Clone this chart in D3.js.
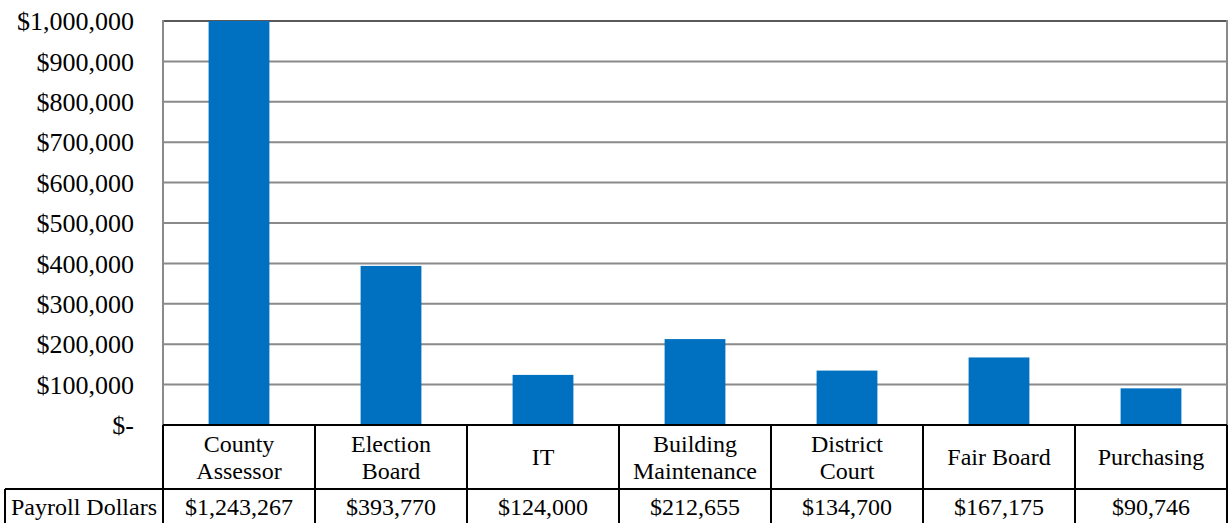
<!DOCTYPE html>
<html>
<head>
<meta charset="utf-8">
<script src="https://cdn.jsdelivr.net/npm/d3@7"></script>
<style>
  html, body { margin: 0; padding: 0; background: #fff; }
  svg { display: block; }
  svg text { font-family: "Liberation Serif", "Times New Roman", serif; fill: #000; }
</style>
</head>
<body>
<div class="chart"></div>
<script>
// --- data ---
const categories = ["County Assessor", "Election Board", "IT", "Building Maintenance",
                    "District Court", "Fair Board", "Purchasing"];
const categoryLines = [["County", "Assessor"], ["Election", "Board"], ["IT"],
                       ["Building", "Maintenance"], ["District", "Court"], ["Fair Board"], ["Purchasing"]];
const seriesName = "Payroll Dollars";
const payroll = [1243267, 393770, 124000, 212655, 134700, 167175, 90746];
const yTicks = [0, 100000, 200000, 300000, 400000, 500000, 600000, 700000, 800000, 900000, 1000000];

const W = 1230, H = 523;
const plot = { left: 163, right: 1227, top: 21, bottom: 425 };
const rowSplit = 489;      // between category row and value row
const firstColLeft = 5;
const serif = '"Liberation Serif", "Times New Roman", serif';

const svg = d3.select(".chart").append("svg")
    .attr("width", W)
    .attr("height", H);

const x = d3.scaleBand()
    .domain(categories)
    .range([plot.left, plot.right]);

const xBar = d3.scaleBand()
    .domain(categories)
    .range([plot.left, plot.right])
    .paddingInner(0.6)
    .paddingOuter(0.3);

const y = d3.scaleLinear()
    .domain([0, 1000000])
    .range([plot.bottom, plot.top]);

const money = d3.format("$,");
const tickFmt = v => v === 0 ? "$-" : money(v);

// gridlines
svg.append("g")
    .selectAll("line")
    .data(yTicks.filter(v => v > 0))
    .join("line")
    .attr("x1", plot.left)
    .attr("x2", plot.right)
    .attr("y1", d => y(d))
    .attr("y2", d => y(d))
    .attr("stroke", d => d === 1000000 ? "#595959" : "#8a8a8a")
    .attr("stroke-width", 2);

// plot side borders
svg.append("line")
    .attr("x1", plot.left).attr("x2", plot.left)
    .attr("y1", plot.top - 1).attr("y2", plot.bottom)
    .attr("stroke", "#8a8a8a").attr("stroke-width", 2);
svg.append("line")
    .attr("x1", plot.right).attr("x2", plot.right)
    .attr("y1", plot.top - 1).attr("y2", plot.bottom)
    .attr("stroke", "#8a8a8a").attr("stroke-width", 2);

// y tick labels
svg.append("g")
    .selectAll("text")
    .data(yTicks)
    .join("text")
    .attr("x", 134)
    .attr("y", d => y(d))
    .attr("dy", "0.35em")
    .attr("text-anchor", "end")
    .style("font-family", serif)
    .style("font-size", "26px")
    .text(tickFmt);

// bars, clipped to the plot area (County Assessor runs off the top)
svg.append("clipPath")
    .attr("id", "plot-clip")
    .append("rect")
    .attr("x", plot.left)
    .attr("y", plot.top)
    .attr("width", plot.right - plot.left)
    .attr("height", plot.bottom - plot.top);

svg.append("g")
    .attr("clip-path", "url(#plot-clip)")
    .selectAll("rect")
    .data(payroll)
    .join("rect")
    .attr("x", (d, i) => xBar(categories[i]))
    .attr("width", xBar.bandwidth())
    .attr("y", d => y(d))
    .attr("height", d => y(0) - y(d))
    .attr("fill", "#0070C0");

// --- data table under the chart ---
const table = svg.append("g")
    .attr("fill", "none")
    .attr("stroke", "#000")
    .attr("stroke-width", 2);

// horizontal rules
table.append("line")
    .attr("x1", plot.left).attr("x2", plot.right)
    .attr("y1", plot.bottom).attr("y2", plot.bottom);
table.append("line")
    .attr("x1", firstColLeft).attr("x2", plot.right)
    .attr("y1", rowSplit).attr("y2", rowSplit);

// vertical rules
const colEdges = [plot.left].concat(categories.map(c => x(c) + x.bandwidth()));
table.selectAll("line.col")
    .data(colEdges)
    .join("line")
    .attr("class", "col")
    .attr("x1", d => d).attr("x2", d => d)
    .attr("y1", plot.bottom).attr("y2", H + 2);
table.append("line")
    .attr("x1", firstColLeft).attr("x2", firstColLeft)
    .attr("y1", rowSplit).attr("y2", H + 2);

// category names
const rowMid1 = (plot.bottom + rowSplit) / 2;
const lineGap = 27;
const catText = svg.append("g")
    .selectAll("text")
    .data(categories)
    .join("text")
    .attr("x", d => x(d) + x.bandwidth() / 2)
    .attr("text-anchor", "middle")
    .style("font-family", serif)
    .style("font-size", "24px");

catText.selectAll("tspan")
    .data((d, i) => categoryLines[i].map((t, j, arr) => ({ t, j, n: arr.length })))
    .join("tspan")
    .attr("x", function() { return this.parentNode.getAttribute("x"); })
    .attr("y", d => rowMid1 + (d.j - (d.n - 1) / 2) * lineGap)
    .attr("dy", "0.35em")
    .text(d => d.t);

// value row
const rowMid2 = rowSplit + 18;
svg.append("text")
    .attr("x", (firstColLeft + plot.left) / 2)
    .attr("y", rowMid2)
    .attr("dy", "0.35em")
    .attr("text-anchor", "middle")
    .style("font-family", serif)
    .style("font-size", "24px")
    .text(seriesName);

svg.append("g")
    .selectAll("text")
    .data(payroll)
    .join("text")
    .attr("x", (d, i) => x(categories[i]) + x.bandwidth() / 2)
    .attr("y", rowMid2)
    .attr("dy", "0.35em")
    .attr("text-anchor", "middle")
    .style("font-family", serif)
    .style("font-size", "24px")
    .text(d => money(d));
</script>
</body>
</html>
